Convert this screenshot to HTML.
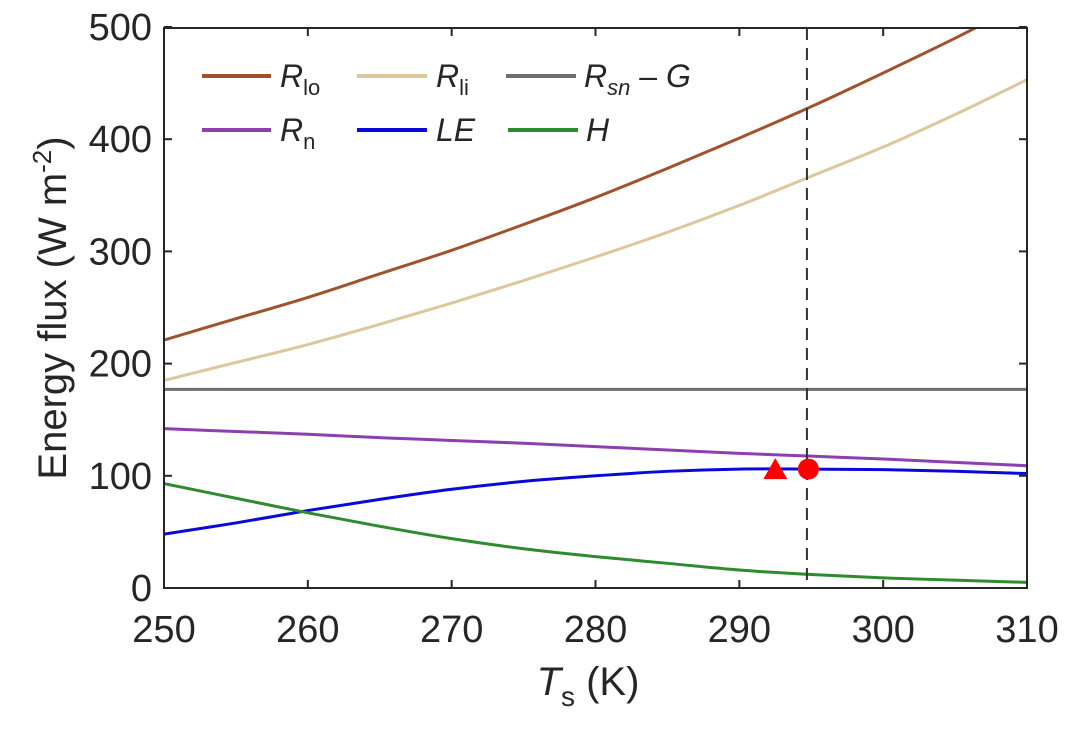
<!DOCTYPE html>
<html><head><meta charset="utf-8">
<style>
body{margin:0;background:#fff;}
svg text{font-family:"Liberation Sans",sans-serif;fill:#262626;}
</style></head>
<body>
<svg id="chart" width="1076" height="732" xmlns="http://www.w3.org/2000/svg">
<defs><clipPath id="plotclip"><rect x="164" y="28" width="863" height="560"/></clipPath></defs>
<rect x="0" y="0" width="1076" height="732" fill="#fff"/>
<g id="series" clip-path="url(#plotclip)"></g>
<g id="axes"></g>
<text transform="translate(66,308) rotate(-90)" text-anchor="middle" font-size="40">Energy flux (W m<tspan dy="-15" font-size="26">-2</tspan><tspan dy="15">)</tspan></text>
<text x="588" y="695" text-anchor="middle" font-size="40"><tspan font-style="italic">T</tspan><tspan dy="11" font-size="28">s</tspan><tspan dy="-11"> (K)</tspan></text>
<g id="legend">
 <line x1="202" y1="76" x2="271" y2="76" stroke="#a0522d" stroke-width="4"/>
 <text x="280" y="87" font-size="32" font-style="italic">R<tspan dy="8" font-size="22" font-style="normal">lo</tspan></text>
 <line x1="357" y1="76" x2="427" y2="76" stroke="#dcc89c" stroke-width="4"/>
 <text x="436" y="87" font-size="32" font-style="italic">R<tspan dy="8" font-size="22" font-style="normal">li</tspan></text>
 <line x1="506" y1="76" x2="576" y2="76" stroke="#6e6e6e" stroke-width="4"/>
 <text x="584" y="87" font-size="32" font-style="italic">R<tspan dy="8" font-size="22">sn</tspan><tspan dy="-8" font-style="normal"> – </tspan>G</text>
 <line x1="202" y1="130" x2="271" y2="130" stroke="#8e3fae" stroke-width="4"/>
 <text x="280" y="141" font-size="32" font-style="italic">R<tspan dy="8" font-size="22" font-style="normal">n</tspan></text>
 <line x1="357" y1="130" x2="427" y2="130" stroke="#0a0ad8" stroke-width="4"/>
 <text x="436" y="141" font-size="32" font-style="italic">LE</text>
 <line x1="508" y1="130" x2="578" y2="130" stroke="#2e8b2e" stroke-width="4"/>
 <text x="586" y="141" font-size="32" font-style="italic">H</text>
</g>
</svg>
<script>
const temps=[250,255,260,265,270,275,280,285,290,295,300,305,310];
const rlo=[221,240,259,280,301,324,348,374,401,429,459,490,523];
const rli=[185,201,217,235,254,274,295,317,341,367,393,422,453];
const rsnG=[177,177,177,177,177,177,177,177,177,177,177,177,177];
const rn=[142,139.5,137,134,131.5,129,126,123,120,117.5,115,112,109];
const le=[48,58,69,79,88,95,100,104,106,106,105.5,104,102];
const h=[93,80,67,55,44,35,28,22,16,12,9,7,5];
const xTicks=[250,260,270,280,290,300,310];
const yTicks=[0,100,200,300,400,500];
const tOpt=294.7;
const triangle=[292.5,106];
const circle=[294.8,106];
const NS="http://www.w3.org/2000/svg";
const X0=164,X1=1027,Y0=588,Y1=28;
function xs(v){return X0+(v-250)/(310-250)*(X1-X0);}
function ys(v){return Y0-(v-0)/(500-0)*(Y0-Y1+1);}
const S=document.getElementById('series'),A=document.getElementById('axes');
function mk(tag,at,p){const e=document.createElementNS(NS,tag);for(const k in at)e.setAttribute(k,at[k]);p.appendChild(e);return e;}
function smooth(vals){
 const p=temps.map((t,i)=>[xs(t),ys(vals[i])]);
 let d='M'+p[0][0]+','+p[0][1];
 for(let i=0;i<p.length-1;i++){
  const p0=p[i-1]||p[i],p1=p[i],p2=p[i+1],p3=p[i+2]||p2;
  const c1=[p1[0]+(p2[0]-p0[0])/6,p1[1]+(p2[1]-p0[1])/6];
  const c2=[p2[0]-(p3[0]-p1[0])/6,p2[1]-(p3[1]-p1[1])/6];
  d+=' C'+c1+' '+c2+' '+p2;
 }
 return d;
}
const series=[['rlo-line',rlo,'#a0522d'],['rli-line',rli,'#dcc89c'],['rsn-g-line',rsnG,'#6e6e6e'],['rn-line',rn,'#8e3fae'],['le-line',le,'#0a0ad8'],['h-line',h,'#2e8b2e']];
series.forEach(s=>{
 const e=mk('path',{d:smooth(s[1]),fill:'none',stroke:s[2],'stroke-width':3},S);
 
 
});
const vl=mk('line',{x1:xs(tOpt),x2:xs(tOpt),y1:Y1,y2:Y0,stroke:'#333','stroke-width':2,'stroke-dasharray':'12,8'},S);


const tx=xs(triangle[0]),ty=ys(triangle[1]);
const tri=mk('polygon',{points:(tx-12)+','+(ty+10)+' '+(tx+12)+','+(ty+10)+' '+tx+','+(ty-11),fill:'#ff0000'},S);


const cir=mk('circle',{cx:xs(circle[0]),cy:ys(circle[1]),r:10.5,fill:'#ff0000'},S);


const box=mk('rect',{x:X0,y:Y1,width:X1-X0,height:Y0-Y1,fill:'none',stroke:'#262626','stroke-width':2},A);


xTicks.forEach(v=>{
 const x=xs(v);
 mk('line',{x1:x,x2:x,y1:Y0,y2:Y0-8,stroke:'#262626','stroke-width':2},A);
 mk('line',{x1:x,x2:x,y1:Y1,y2:Y1+8,stroke:'#262626','stroke-width':2},A);
 const t=mk('text',{x:x,y:642,'text-anchor':'middle','font-size':38},A);
 t.textContent=v;
 
 
});
yTicks.forEach(v=>{
 const y=ys(v);
 mk('line',{x1:X0,x2:X0+8,y1:y,y2:y,stroke:'#262626','stroke-width':2},A);
 mk('line',{x1:X1,x2:X1-8,y1:y,y2:y,stroke:'#262626','stroke-width':2},A);
 const t=mk('text',{x:152,y:y+13,'text-anchor':'end','font-size':38},A);
 t.textContent=v;
 
 
});
</script>
</body></html>
